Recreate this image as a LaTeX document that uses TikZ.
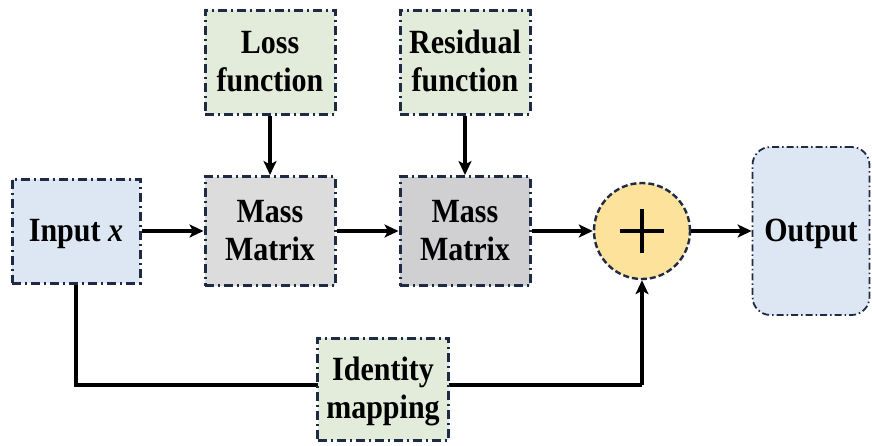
\documentclass[tikz,border=0pt]{standalone}
\usepackage{fontspec}
\setmainfont{Liberation Serif}
\usetikzlibrary{arrows.meta,calc}
\definecolor{bordc}{HTML}{1F2B45}
\definecolor{blueF}{HTML}{DDE7F3}
\definecolor{greenF}{HTML}{E3ECDA}
\definecolor{grayA}{HTML}{DCDCDD}
\definecolor{grayB}{HTML}{D0CFD2}
\definecolor{yelF}{HTML}{FDE29C}
\newcommand\boxtxt[1]{\raisebox{-3pt}[\height][\depth]{\scalebox{1}[1.13]{\begin{tabular}{@{}c@{}}#1\end{tabular}}}}
\tikzset{
  box/.style={draw=bordc, line width=3pt, dash pattern=on 9pt off 4pt on 2pt off 4pt,
    minimum width=130pt, minimum height=104pt, align=center, inner sep=2pt,
    font=\fontsize{30}{34}\selectfont\bfseries},
  arr/.style={line width=4.4pt, -{Stealth[length=14pt,width=13pt,inset=3.5pt]}},
  ln/.style={line width=4.4pt}
}
\begin{document}
\begin{tikzpicture}[x=1pt,y=-1pt]
\useasboundingbox (0,0) rectangle (872,445);
\node[box, fill=blueF, minimum width=128pt] (in) at (76,231) {\boxtxt{Input \textit{x}}};
\node[box, fill=greenF] (loss) at (270,62) {\boxtxt{Loss\\function}};
\node[box, fill=greenF] (res) at (465,62) {\boxtxt{Residual\\function}};
\node[box, fill=grayA, minimum height=109pt] (m1) at (270,231) {\boxtxt{Mass\\Matrix}};
\node[box, fill=grayB, minimum height=109pt] (m2) at (465,231) {\boxtxt{Mass\\Matrix}};
\node[circle, draw=bordc, fill=yelF, line width=2.4pt, dash pattern=on 6pt off 3pt,
  minimum size=96pt, inner sep=0pt] (sum) at (642,231) {};
\draw[line width=3.4pt] ($(sum.center)+(-22,0)$) -- ($(sum.center)+(22,0)$);
\draw[line width=3.4pt] ($(sum.center)+(0,-22)$) -- ($(sum.center)+(0,22)$);
\node[box, fill=blueF, rounded corners=18pt, line width=1.8pt,
  dash pattern=on 7pt off 3pt on 1.5pt off 3pt,
  minimum width=117pt, minimum height=168pt] (out) at (811,231) {\boxtxt{Output}};
\coordinate (c1) at (76,385);
\coordinate (c2) at (642,385);
\draw[ln] (in.south) -- (c1) -- (c2);
\draw[arr] (c2) -- (sum.south);
\node[box, fill=greenF, minimum width=131pt, minimum height=102pt] (id) at (383,389) {\boxtxt{Identity\\mapping}};
\draw[arr] (in.east) -- (m1.west);
\draw[arr] (loss.south) -- (m1.north);
\draw[arr] (m1.east) -- (m2.west);
\draw[arr] (res.south) -- (m2.north);
\draw[arr] (m2.east) -- (sum.west);
\draw[arr] (sum.east) -- (out.west);
\end{tikzpicture}
\end{document}
